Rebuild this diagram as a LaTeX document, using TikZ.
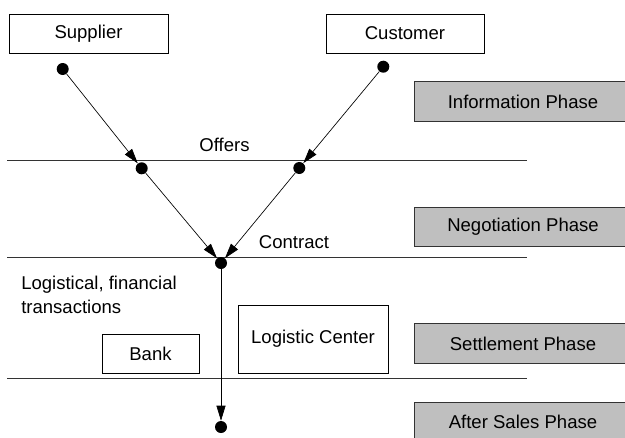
\documentclass[tikz,border=0pt]{standalone}
\usepackage{fontspec}
\setmainfont{Liberation Sans}
\usetikzlibrary{arrows.meta}

\tikzset{
  box/.style={draw, line width=0.6pt, fill=white, inner sep=0pt, minimum height=29.25pt},
  phase/.style={draw=black!80, line width=0.7pt, fill=black!25, inner sep=0pt,
    minimum width=163.5pt, minimum height=29.6pt},
  dot/.style={circle, fill=black, inner sep=0pt, minimum size=9pt},
  flow/.style={-{Triangle[length=11.25pt,width=6.75pt]}, line width=0.5pt},
  sep/.style={line width=0.6pt, black!80}
}

\begin{document}
\begin{tikzpicture}[x=0.75pt, y=-0.75pt, font=\fontsize{13.9pt}{18pt}\selectfont]
\clip (0,0) rectangle (625,437);

% partners
\node[box, minimum width=119.25pt] (supplier) at (88.5,33.5) {Supplier};
\node[box, minimum width=118.5pt] (customer) at (405,33.5) {Customer};

% phases
\node[phase] (info) at (523,101.5) {Information Phase};
\node[phase] (nego) at (523,227) {Negotiation Phase};
\node[phase] (settle) at (523,343.5) {Settlement Phase};
\node[phase] (after) at (523,421.75) {After Sales Phase};

% phase borders
\draw[sep] (7,160) -- (527,160);
\draw[sep] (7,257) -- (527,257);
\draw[sep] (7,378) -- (527,378);

% events
\node[dot] (s) at (62.7,69) {};
\node[dot] (c) at (383.3,66.7) {};
\node[dot] (o1) at (141.7,168.3) {};
\node[dot] (o2) at (299.3,168) {};
\node[dot] (k) at (221,263) {};
\node[dot] (e) at (221,427) {};

\draw[flow] (s) -- (o1);
\draw[flow] (c) -- (o2);
\draw[flow] (o1) -- (k);
\draw[flow] (o2) -- (k);
\draw[flow] (k) -- (e);

\node (offers) at (224.5,145) {Offers};
\node (contract) at (294,242) {Contract};
\node[anchor=west, align=left, inner sep=0pt] (trans) at (21,295)
  {Logistical, financial\\transactions};

% settlement partners
\node[box, minimum width=72.75pt] (bank) at (150.5,353.5) {Bank};
\node[box, minimum width=112.5pt, minimum height=51pt] (logcenter) at (313,339) {Logistic Center};
\end{tikzpicture}
\end{document}
